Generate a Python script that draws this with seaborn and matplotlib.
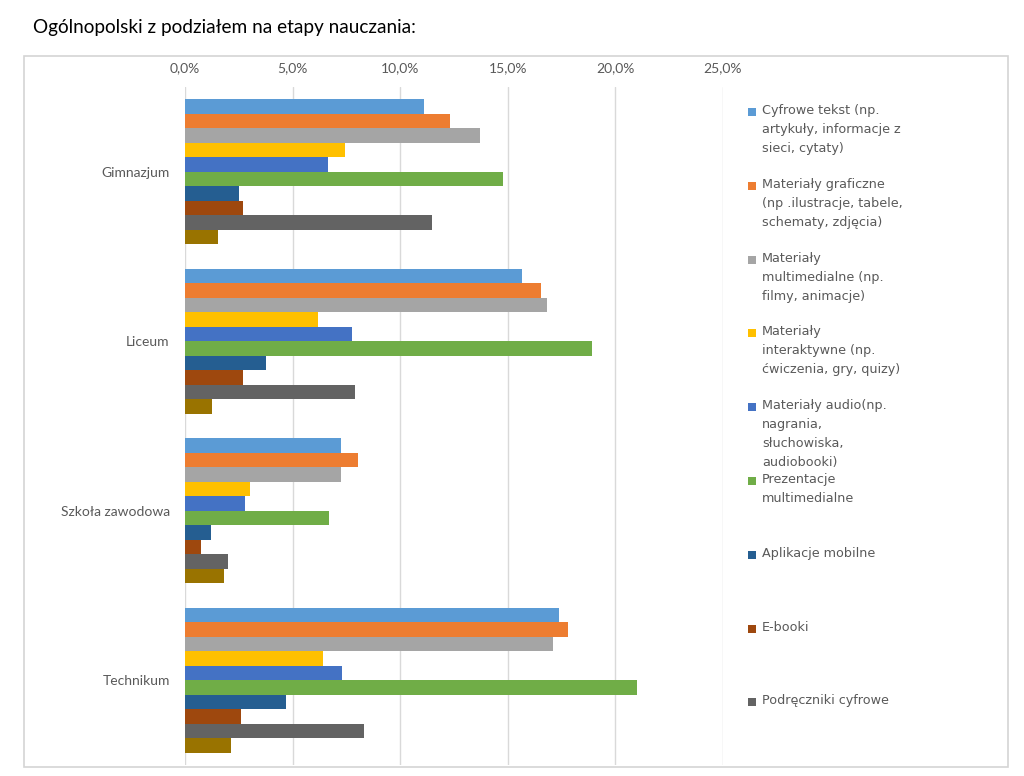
import matplotlib
matplotlib.use("Agg")
import matplotlib.pyplot as plt
import matplotlib.patches as mpatches
from matplotlib.ticker import FuncFormatter, FixedLocator
import seaborn as sns
import pandas as pd

# ---------------- data ----------------
title = "Ogólnopolski z podziałem na etapy nauczania:"
stages = ["Gimnazjum", "Liceum", "Szkoła zawodowa", "Technikum"]
series = [
    "Cyfrowe tekst (np.\nartykuły, informacje z\nsieci, cytaty)",
    "Materiały graficzne\n(np .ilustracje, tabele,\nschematy, zdjęcia)",
    "Materiały\nmultimedialne (np.\nfilmy, animacje)",
    "Materiały\ninteraktywne (np.\nćwiczenia, gry, quizy)",
    "Materiały audio(np.\nnagrania,\nsłuchowiska,\naudiobooki)",
    "Prezentacje\nmultimedialne",
    "Aplikacje mobilne",
    "E-booki",
    "Podręczniki cyfrowe",
    "Seria 10",  # legend entry cut off in the original
]
legend_count = 9
colors = ["#5B9BD5", "#ED7D31", "#A5A5A5", "#FFC000", "#4472C4",
          "#70AD47", "#255E91", "#9E480E", "#636363", "#997300"]

# percentage values per stage, in series order
gimnazjum = [11.1, 12.3, 13.7, 7.45, 6.65, 14.8, 2.5, 2.7, 11.5, 1.55]
liceum = [15.65, 16.55, 16.8, 6.2, 7.75, 18.9, 3.75, 2.7, 7.9, 1.25]
szkola_zawodowa = [7.25, 8.05, 7.25, 3.0, 2.8, 6.7, 1.2, 0.75, 2.0, 1.8]
technikum = [17.4, 17.8, 17.1, 6.4, 7.3, 21.0, 4.7, 2.6, 8.3, 2.15]
values = [gimnazjum, liceum, szkola_zawodowa, technikum]

x_ticks = [0, 5, 10, 15, 20, 25]

rows = []
for st, vals in zip(stages, values):
    for s, v in zip(series, vals):
        rows.append({"etap": st, "typ": s, "udzial": v})
df = pd.DataFrame(rows)

# ---------------- figure ----------------
sns.set_theme(style="white")
plt.rcParams["font.family"] = ["Lato", "DejaVu Sans"]

W, H = 1024, 776
fig = plt.figure(figsize=(W / 100, H / 100), dpi=100)
fig.patch.set_facecolor("white")

def fx(px):
    return px / W

def fy(py):
    return 1 - py / H

ax_left, ax_right, ax_top, ax_bottom = 185, 723, 87, 765
ax = fig.add_axes([fx(ax_left), fy(ax_bottom), fx(ax_right - ax_left), (ax_bottom - ax_top) / H])

sns.barplot(data=df, y="etap", x="udzial", hue="typ", order=stages,
            hue_order=series, palette=colors, orient="h", width=0.858,
            saturation=1, linewidth=0, legend=False, ax=ax)

ax.set_xlim(0, 25)
ax.set_ylim(len(stages) - 0.5, -0.5)
ax.xaxis.set_major_locator(FixedLocator(x_ticks))
ax.xaxis.set_major_formatter(FuncFormatter(lambda v, p: f"{v:.1f}%".replace(".", ",")))
ax.xaxis.tick_top()
ax.tick_params(axis="x", length=0, pad=9, labelsize=10, labelcolor="#595959")
ax.tick_params(axis="y", length=0, pad=11, labelsize=10, labelcolor="#595959")
ax.set_xlabel("")
ax.set_ylabel("")
ax.grid(axis="x", color="#d9d9d9", linewidth=1)
ax.grid(axis="y", visible=False)
ax.set_axisbelow(True)
for sp in ax.spines.values():
    sp.set_visible(False)

# outer chart border
border = mpatches.Rectangle((fx(24), fy(767)), fx(1008 - 24), (767 - 56) / H,
                            transform=fig.transFigure, fill=False,
                            edgecolor="#d4d4d4", linewidth=1.2)
fig.add_artist(border)

# title
fig.text(fx(33), fy(27), title, fontsize=13.7, color="black", va="center",
         ha="left", family=["Lato", "DejaVu Sans"])

# legend (manual, Excel-like fixed slots)
first_y = 112
step = 73.8
for i in range(legend_count):
    cy = first_y + i * step
    sq = mpatches.Rectangle((fx(748), fy(cy + 4)), fx(8), 8 / H,
                            transform=fig.transFigure, facecolor=colors[i],
                            edgecolor="none")
    fig.add_artist(sq)
    fig.text(fx(762), fy(cy - 8), series[i], fontsize=9.2, color="#595959",
             va="top", ha="left", linespacing=1.6,
             family=["DejaVu Sans"])

fig.savefig("out.png", dpi=100, facecolor="white")
